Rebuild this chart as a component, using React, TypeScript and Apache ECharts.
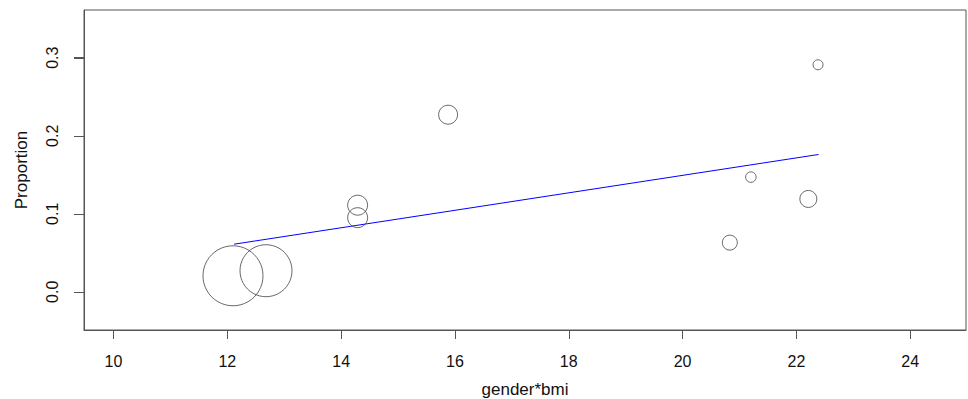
import React, { useEffect, useRef } from "react";
import * as echarts from "echarts";

const xValues = [12.1, 12.68, 14.29, 14.29, 15.88, 20.83, 21.2, 22.21, 22.38];
const yValues = [0.0205, 0.027, 0.111, 0.095, 0.227, 0.063, 0.147, 0.119, 0.291];
const bubbleDiameters = [60, 52, 20, 20, 19, 15, 10.5, 17, 10];
const fitX = [12.12, 22.39];
const fitY = [0.061, 0.176];
const xTicks = [10, 12, 14, 16, 18, 20, 22, 24];
const yTicks = [0, 0.1, 0.2, 0.3];

const X_MIN = 9.482;
const X_MAX = 24.98;

export default function App() {
  const ref = useRef<HTMLDivElement>(null);
  useEffect(() => {
    if (!ref.current) return;
    const chart = echarts.init(ref.current, null, { renderer: "svg" });
    const font = "Liberation Sans, Arial, sans-serif";
    chart.setOption({
      animation: false,
      backgroundColor: "#ffffff",
      grid: {
        left: 84,
        top: 10,
        right: 2,
        bottom: 69,
        show: true,
        borderColor: "#555",
        borderWidth: 1,
        backgroundColor: "transparent",
        containLabel: false,
        outerBoundsMode: "none",
      },
      xAxis: {
        type: "value",
        min: X_MIN,
        max: X_MAX,
        name: "gender*bmi",
        nameLocation: "middle",
        nameGap: 51,
        nameTextStyle: { fontFamily: font, fontSize: 17, color: "#111" },
        axisLine: { show: true, onZero: false, lineStyle: { color: "#555", width: 1 } },
        splitLine: { show: false },
        axisTick: {
          show: true,
          inside: false,
          length: 9,
          customValues: xTicks,
          lineStyle: { color: "#555", width: 1 },
        },
        axisLabel: {
          customValues: xTicks,
          margin: 23,
          fontFamily: font,
          fontSize: 16,
          color: "#111",
        },
      },
      yAxis: {
        type: "value",
        min: -0.049,
        max: 0.3612,
        name: "Proportion",
        nameLocation: "middle",
        nameGap: 54,
        nameTextStyle: { fontFamily: font, fontSize: 17, color: "#111" },
        axisLine: { show: true, onZero: false, lineStyle: { color: "#555", width: 1 } },
        splitLine: { show: false },
        axisTick: {
          show: true,
          inside: false,
          length: 10,
          customValues: yTicks,
          lineStyle: { color: "#555", width: 1 },
        },
        axisLabel: {
          customValues: yTicks,
          rotate: 90,
          margin: 24,
          fontFamily: font,
          fontSize: 16,
          color: "#111",
          formatter: (v: number) => v.toFixed(1),
        },
      },
      series: [
        {
          type: "scatter",
          symbol: "circle",
          data: xValues.map((x, i) => [x, yValues[i], bubbleDiameters[i]]),
          symbolSize: (d: number[]) => d[2],
          itemStyle: { color: "transparent", borderColor: "#444", borderWidth: 1 },
          emphasis: { disabled: true },
          clip: false,
          z: 3,
        },
        {
          type: "line",
          data: fitX.map((x, i) => [x, fitY[i]]),
          symbol: "none",
          lineStyle: { color: "#0000ff", width: 1 },
          z: 2,
        },
      ],
    });
    const tickLines = yTicks.map((v) => {
      const p = chart.convertToPixel({ gridIndex: 0 }, [X_MIN, v]) as number[];
      const y = Math.round(p[1]) + 0.5;
      return {
        type: "line",
        silent: true,
        shape: { x1: p[0] - 10, y1: y, x2: p[0], y2: y },
        style: { stroke: "#555", lineWidth: 1 },
        z: 10,
      };
    });
    chart.setOption({ graphic: tickLines });
    return () => chart.dispose();
  }, []);
  return (
    <div
      ref={ref}
      style={{ position: "fixed", left: 0, top: 0, width: 968, height: 399 }}
    />
  );
}
